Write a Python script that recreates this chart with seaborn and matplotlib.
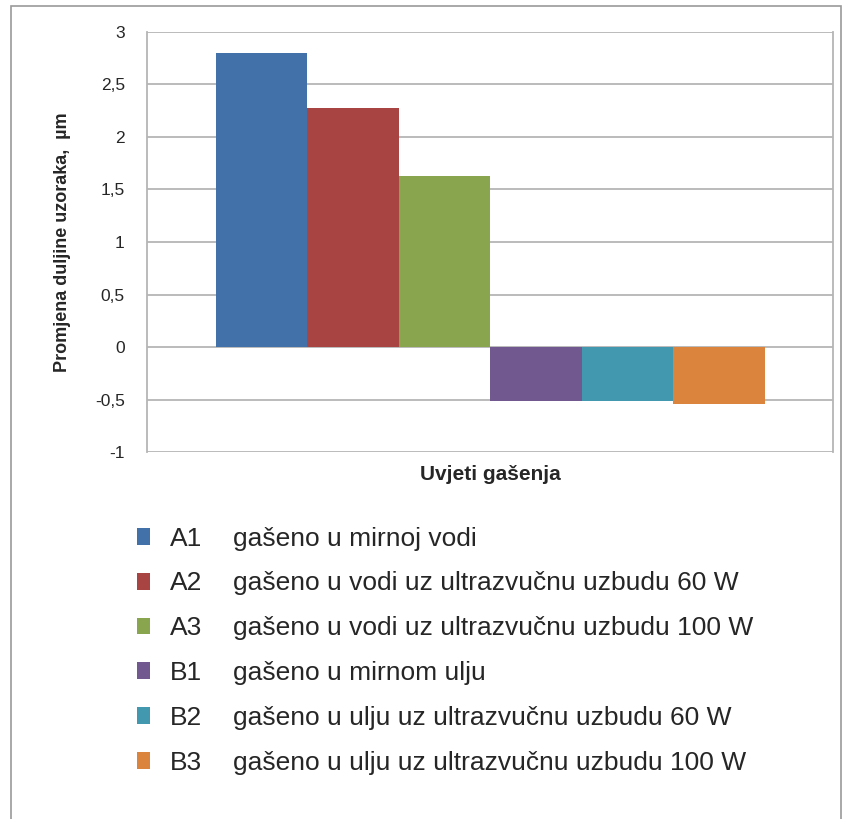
import pandas as pd
import seaborn as sns
import matplotlib.pyplot as plt
import matplotlib.ticker as mticker
from matplotlib.patches import Rectangle

# Data
codes = ['A1', 'A2', 'A3', 'B1', 'B2', 'B3']
descriptions = [
    'gašeno u mirnoj vodi',
    'gašeno u vodi uz ultrazvučnu uzbudu 60 W',
    'gašeno u vodi uz ultrazvučnu uzbudu 100 W',
    'gašeno u mirnom ulju',
    'gašeno u ulju uz ultrazvučnu uzbudu 60 W',
    'gašeno u ulju uz ultrazvučnu uzbudu 100 W',
]
values = [2.80, 2.28, 1.63, -0.51, -0.51, -0.54]
colors = ['#4270A8', '#A84442', '#89A54E', '#71588F', '#4198AF', '#DB843D']

df = pd.DataFrame({'group': [''] * len(codes), 'code': codes, 'value': values})

sns.set_style('white')
plt.rcParams['font.family'] = ['Liberation Sans', 'DejaVu Sans']

fig = plt.figure(figsize=(8.45, 8.19), dpi=100)
ax = fig.add_axes([0.174, 0.448, 0.812, 0.513])

sns.barplot(data=df, x='group', y='value', hue='code', palette=colors,
            width=0.8, saturation=1, linewidth=0, ax=ax, zorder=3)

ax.set_ylim(-1, 3)
ax.yaxis.set_major_locator(mticker.MultipleLocator(0.5))
ax.yaxis.set_major_formatter(mticker.FuncFormatter(
    lambda v, p: f'{v:g}'.replace('.', ',')))
ax.grid(axis='y', color='#b5b5b5', linewidth=1.3, zorder=0)
ax.set_axisbelow(True)
for side in ['left', 'right', 'top', 'bottom']:
    ax.spines[side].set_visible(side in ('left', 'right'))
    ax.spines[side].set_color('#b5b5b5')
    ax.spines[side].set_linewidth(1.3)
ax.tick_params(axis='y', length=5, width=1.3, color='#b5b5b5', labelsize=12.5, pad=11)
ax.tick_params(axis='x', length=0, labelbottom=False)

ax.set_ylabel('Promjena duljine uzoraka,  µm', fontsize=13, fontweight='bold', labelpad=17)
ax.set_xlabel('Uvjeti gašenja', fontsize=15, fontweight='bold', labelpad=9)

# Legend: codes with swatches, descriptions in a second column
handles, labels = ax.get_legend_handles_labels()
ax.get_legend().remove()
common = dict(frameon=False, fontsize=19, labelspacing=0.79, loc='upper left',
              borderaxespad=0, borderpad=0)
fig.legend(handles, codes, bbox_to_anchor=(0.162, 0.357), handlelength=0.5,
           handleheight=0.6, handletextpad=0.76, **common)
blank = [Rectangle((0, 0), 0, 0, visible=False) for _ in descriptions]
fig.legend(blank, descriptions, bbox_to_anchor=(0.2757, 0.357), handlelength=0,
           handleheight=0.6, handletextpad=0, **common)

# outer frame
fig.patches.append(Rectangle((0.013, -0.01), 0.982, 1.003, transform=fig.transFigure,
                             fill=False, edgecolor='#9a9a9a', linewidth=1.2))

plt.savefig('out.png', dpi=100)
